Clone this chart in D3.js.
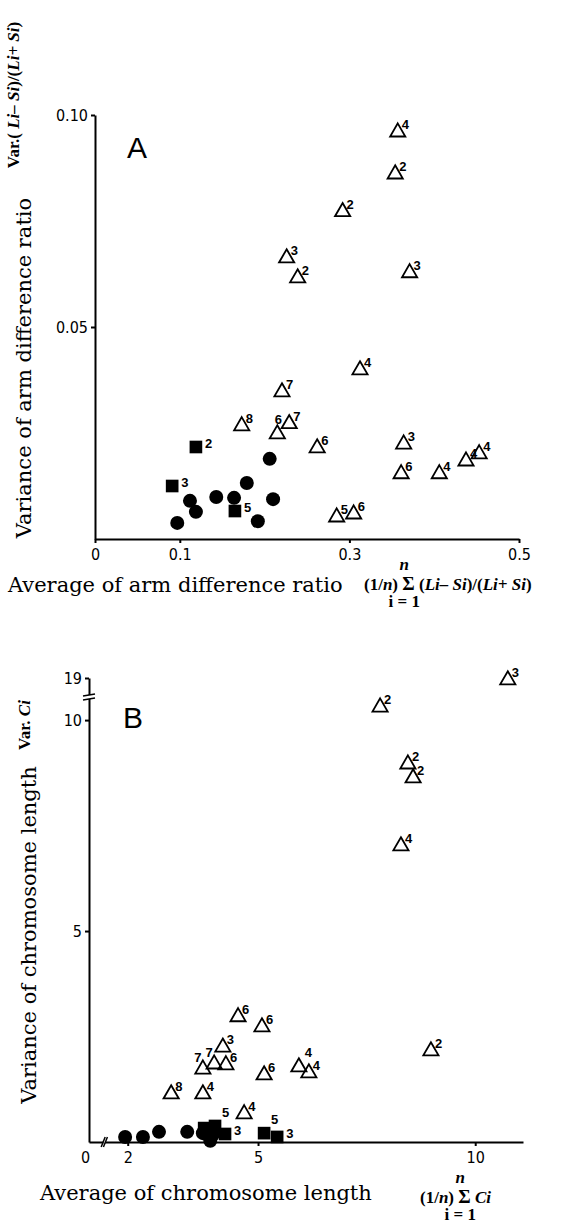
<!DOCTYPE html>
<html>
<head>
<meta charset="utf-8">
<script src="https://cdn.jsdelivr.net/npm/d3@7"></script>
<style>
	body { margin: 0; background: #fff; }
	svg { display: block; }
	.tick text { font-family: 'DejaVu Sans', sans-serif; font-stretch: condensed; font-size: 16px; fill: #000; }
	.axis path, .axis line { stroke: #000; stroke-width: 2; }
	.title { font-family: 'DejaVu Serif', serif; font-size: 21px; }
	.unit { font-family: 'Liberation Serif', serif; font-size: 17px; font-weight: bold; }
	.num { font-family: 'Liberation Sans', sans-serif; font-size: 13px; font-weight: bold; }
	.panel { font-family: 'Liberation Sans', sans-serif; font-size: 30px; }
</style>
</head>
<body>
<div id="chart"></div>
<script>
// Panel A: [average, variance, label] of arm difference ratio
const triA = [
	[0.357, 0.0962, 4], [0.354, 0.0863, 2], [0.292, 0.0774, 2], [0.226, 0.0665, 3],
	[0.239, 0.0618, 2], [0.371, 0.0630, 3], [0.3125, 0.0401, 4], [0.2205, 0.0349, 7],
	[0.173, 0.0269, 8], [0.229, 0.0274, 7], [0.215, 0.0250, 6], [0.262, 0.0217, 6],
	[0.364, 0.0226, 3], [0.361, 0.0156, 6], [0.406, 0.0156, 4], [0.4375, 0.0186, 4],
	[0.453, 0.0203, 4], [0.285, 0.0054, 5], [0.305, 0.0061, 6],
];
const sqA = [[0.119, 0.0217, 2], [0.091, 0.0125, 3], [0.165, 0.0066, 5]];
const dotA = [
	[0.097, 0.0038], [0.112, 0.0090], [0.119, 0.0064], [0.143, 0.0099], [0.164, 0.0097],
	[0.179, 0.0132], [0.192, 0.0042], [0.206, 0.0189], [0.210, 0.0094],
];
const xTicksA = [0, 0.1, 0.3, 0.5];
const yTicksA = [0.05, 0.10];

// Panel B: [average, variance, label] of chromosome length
const triB = [
	[10.75, 18.6, 3], [7.81, 10.33, 2], [8.45, 8.98, 2], [8.57, 8.65, 2],
	[8.29, 7.04, 4], [4.54, 2.99, 6], [5.09, 2.75, 6], [4.19, 2.27, 3],
	[3.73, 1.75, 7], [3.99, 1.87, 7], [4.26, 1.85, 6], [5.14, 1.61, 6],
	[5.94, 1.80, 4], [6.17, 1.66, 4], [8.98, 2.18, 2], [3.00, 1.16, 8],
	[3.73, 1.16, 4], [4.68, 0.69, 4],
];
const sqB = [[3.76, 0.33, null], [4.01, 0.38, 5], [4.24, 0.19, 3], [5.14, 0.21, 5], [5.44, 0.12, 3]];
const dotB = [[1.94, 0.12], [2.35, 0.12], [2.72, 0.24], [3.37, 0.24], [3.73, 0.21], [3.90, 0.03], [3.96, 0.17]];
const xTicksB = [0, 2, 5, 10];
const yTicksB = [5, 10, 19];

// where a label does not sit in its usual place
const labelPlace = {
	'A-tri-10': 'top',
	'B-tri-8': 'topLeft',
	'B-tri-9': 'topLeft',
	'B-tri-12': 'high',
	'B-sq-1': 'up',
	'B-sq-3': 'up',
};
const offsets = {
	tri: [4, -2, 'start'],
	sq: [9, 1, 'start'],
	top: [1, -9, 'middle'],
	topLeft: [-5, -6, 'middle'],
	high: [6, -9, 'start'],
	up: [7, -9, 'start'],
};

const width = 564;
const height = 1227;

const svg = d3.select('#chart').append('svg')
	.attr('width', width)
	.attr('height', height)
	.attr('viewBox', `0 0 ${width} ${height}`);

const tri = d3.symbol(d3.symbolTriangle, 100);
const sq = d3.symbol(d3.symbolSquare, 160);

function addMarks(g, id, x, y, tris, sqs, dots) {
	g.selectAll('.dot')
		.data(dots)
		.enter()
		.append('circle')
		.attr('cx', (d) => x(d[0]))
		.attr('cy', (d) => y(d[1]))
		.attr('r', 7)
		.attr('fill', '#000');

	g.selectAll('.sq')
		.data(sqs)
		.enter()
		.append('path')
		.attr('d', sq)
		.attr('transform', (d) => `translate(${x(d[0])},${y(d[1])})`)
		.attr('fill', '#000');

	g.selectAll('.tri')
		.data(tris)
		.enter()
		.append('path')
		.attr('d', tri)
		.attr('transform', (d) => `translate(${x(d[0])},${y(d[1]) + 1})`)
		.attr('fill', 'none')
		.attr('stroke', '#000')
		.attr('stroke-width', 1.8);

	[['tri', tris], ['sq', sqs]].forEach(([kind, rows]) => {
		g.selectAll(`.num-${kind}`)
			.data(rows)
			.enter()
			.filter((d) => d[2] != null)
			.append('text')
			.attr('class', 'num')
			.each(function (d) {
				const key = `${id}-${kind}-${rows.indexOf(d)}`;
				const [dx, dy, anchor] = offsets[labelPlace[key] || kind];
				d3.select(this)
					.attr('x', x(d[0]) + dx)
					.attr('y', y(d[1]) + dy)
					.attr('text-anchor', anchor)
					.text(d[2]);
			});
	});
}

function rotated(g, x, y, cls) {
	return g.append('text')
		.attr('class', cls)
		.attr('text-anchor', 'middle')
		.attr('transform', `translate(${x},${y}) rotate(-90)`);
}

// formula "(1/n) Σ ..." with limits under and over the sigma
function sumFormula(g, x, y, parts) {
	const t = g.append('text').attr('class', 'unit').attr('x', x).attr('y', y);
	t.append('tspan').text('(1/');
	t.append('tspan').attr('font-style', 'italic').text('n');
	t.append('tspan').text(') ');
	const sigma = t.append('tspan').attr('font-size', 19).text('Σ');
	parts.forEach(([txt, it]) => {
		t.append('tspan').attr('font-style', it ? 'italic' : null).text(txt);
	});
	const cx = x + t.node().getSubStringLength(0, 5) + sigma.node().getComputedTextLength() / 2;
	g.append('text').attr('class', 'unit').attr('font-size', 10).attr('font-style', 'italic')
		.attr('x', cx).attr('y', y - 20).attr('text-anchor', 'middle').text('n');
	g.append('text').attr('class', 'unit').attr('font-size', 9)
		.attr('x', cx).attr('y', y + 17).attr('text-anchor', 'middle').text('i = 1');
}

// ---------- panel A ----------
const xA = d3.scaleLinear().domain([0, 0.5]).range([95, 519]);
const yA = d3.scaleLinear().domain([0, 0.10]).range([539, 115]);
const gA = svg.append('g');

gA.append('g')
	.attr('class', 'axis')
	.attr('transform', `translate(0,${yA(0)})`)
	.call(d3.axisBottom(xA).tickValues(xTicksA).tickSize(4).tickSizeOuter(0)
		.tickFormat((d) => (d === 0 ? '0' : d3.format('.1f')(d))))
	.call((a) => a.selectAll('.tick text').attr('dy', '0.9em'));

gA.append('g')
	.attr('class', 'axis')
	.attr('transform', `translate(${xA(0)},0)`)
	.call(d3.axisLeft(yA).tickValues(yTicksA).tickSize(4).tickSizeOuter(0)
		.tickFormat(d3.format('.2f')))
	.call((a) => a.selectAll('.tick text').attr('font-size', 14));

gA.append('text').attr('class', 'panel').attr('x', 127).attr('y', 158).text('A');

addMarks(gA, 'A', xA, yA, triA, sqA, dotA);

rotated(gA, 31, 368, 'title').text('Variance of arm difference ratio');
const unitA = rotated(gA, 19, 95, 'unit');
unitA.append('tspan').text('Var.( ');
unitA.append('tspan').attr('font-style', 'italic').text('Li– Si');
unitA.append('tspan').text(')/(');
unitA.append('tspan').attr('font-style', 'italic').text('Li+ Si');
unitA.append('tspan').text(')');

gA.append('text').attr('class', 'title').attr('x', 8).attr('y', 592)
	.text('Average of arm difference ratio');

sumFormula(gA, 364, 590, [['  (', false], ['Li– Si', true], [')/(', false], ['Li+ Si', true], [')', false]]);

// ---------- panel B ----------
const xB = d3.scaleLinear().domain([0, 1.5, 11.1]).range([89, 106, 523]);
const yB = d3.scaleLinear().domain([0, 10.5, 19]).range([1142, 699, 678]);
const gB = svg.append('g');

gB.append('g')
	.attr('class', 'axis')
	.attr('transform', `translate(0,${yB(0)})`)
	.call(d3.axisBottom(xB).tickValues(xTicksB).tickSize(4).tickSizeOuter(0))
	.call((a) => a.selectAll('.tick text').attr('dy', '0.9em'))
	.call((a) => a.selectAll('.tick').filter((d) => d === 0).select('line').remove())
	.call((a) => a.selectAll('.tick').filter((d) => d === 0).select('text').attr('x', -4));

gB.append('g')
	.attr('class', 'axis')
	.attr('transform', `translate(${xB(0)},0)`)
	.call(d3.axisLeft(yB).tickValues(yTicksB).tickSize(4).tickSizeOuter(0))
	.call((a) => a.selectAll('.tick text').attr('font-size', 14));

// axis breaks
gB.append('rect')
	.attr('x', xB(1.28)).attr('y', yB(0) - 2).attr('width', xB(1.42) - xB(1.28)).attr('height', 4)
	.attr('fill', '#fff');
[xB(1.25), xB(1.45)].forEach((bx) => {
	gB.append('line')
		.attr('x1', bx - 2).attr('y1', yB(0) + 5).attr('x2', bx + 2).attr('y2', yB(0) - 5)
		.attr('stroke', '#000').attr('stroke-width', 1.5);
});
gB.append('rect')
	.attr('x', xB(0) - 3).attr('y', yB(10.5) - 4).attr('width', 6).attr('height', 4)
	.attr('fill', '#fff');
[yB(10.5) - 4, yB(10.5)].forEach((by) => {
	gB.append('line')
		.attr('x1', xB(0) - 6).attr('y1', by + 1).attr('x2', xB(0) + 6).attr('y2', by - 1)
		.attr('stroke', '#000').attr('stroke-width', 1.5);
});

gB.append('text').attr('class', 'panel').attr('x', 123).attr('y', 728).text('B');

addMarks(gB, 'B', xB, yB, triB, sqB, dotB);

rotated(gB, 36, 935, 'title').text('Variance of chromosome length');
const unitB = rotated(gB, 30, 725, 'unit');
unitB.append('tspan').text('Var. ');
unitB.append('tspan').attr('font-style', 'italic').text('Ci');

gB.append('text').attr('class', 'title').attr('x', 40).attr('y', 1200)
	.text('Average of chromosome length');

sumFormula(gB, 420, 1203, [['  ', false], ['Ci', true]]);
</script>
</body>
</html>
